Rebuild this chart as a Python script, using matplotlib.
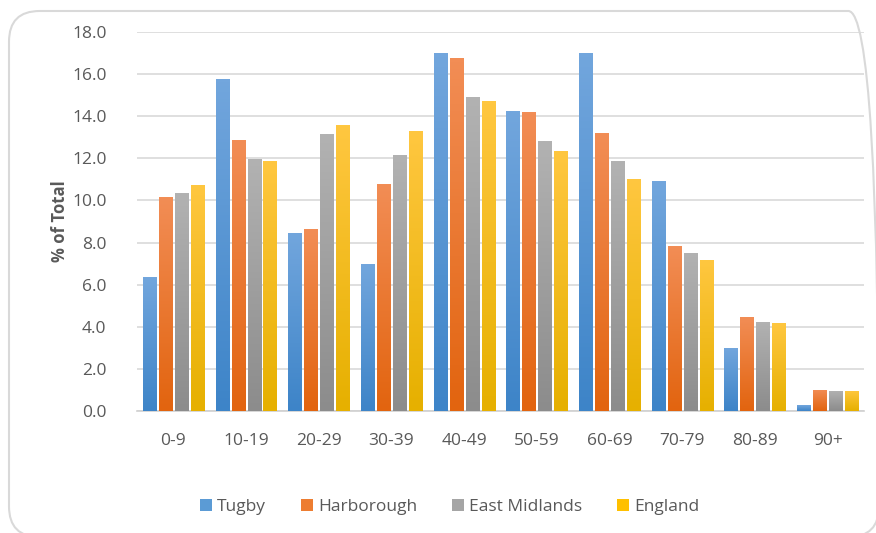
import matplotlib
matplotlib.use("Agg")
import matplotlib.pyplot as plt
import numpy as np
from matplotlib.colors import LinearSegmentedColormap
from matplotlib.patches import FancyBboxPatch

# ================================
# Data
# ================================
age_groups = ["0-9", "10-19", "20-29", "30-39", "40-49", "50-59", "60-69", "70-79", "80-89", "90+"]
tugby = [6.35, 15.75, 8.47, 6.98, 16.98, 14.24, 16.98, 10.9, 3.01, 0.27]
harborough = [10.15, 12.87, 8.63, 10.78, 16.76, 14.2, 13.18, 7.83, 4.46, 1.01]
east_midlands = [10.35, 11.98, 13.14, 12.16, 14.91, 12.82, 11.86, 7.52, 4.23, 0.95]
england = [10.75, 11.86, 13.58, 13.3, 14.7, 12.36, 11.02, 7.19, 4.16, 0.95]

series_names = ["Tugby", "Harborough", "East Midlands", "England"]
series_values = [tugby, harborough, east_midlands, england]
yticks = np.arange(0, 18.1, 2)

# top colour, bottom colour, legend colour
gradients = [
    ("#72a6dd", "#3d84c8", "#5b9bd5"),
    ("#f28d55", "#e2640f", "#ed7d31"),
    ("#b2b2b2", "#8c8c8c", "#a5a5a5"),
    ("#ffc740", "#e6b000", "#ffc000"),
]

TEXT = "#595959"
plt.rcParams["font.family"] = ["Open Sans", "DejaVu Sans"]

fig = plt.figure(figsize=(8.76, 5.33), dpi=100)
ax = fig.add_axes([137 / 876, 122 / 533, 727 / 876, 379 / 533])

# chart border (runs off the right and bottom edge like the screenshot)
border = FancyBboxPatch((9 / 876, -4 / 533), 870 / 876, 526 / 533,
                        boxstyle="round,pad=0,rounding_size=0.035",
                        transform=fig.transFigure, facecolor="none",
                        edgecolor="#d9d9d9", linewidth=1.5, mutation_aspect=876 / 533)
fig.patches.append(border)

x = np.arange(len(age_groups))
width = 0.18
pitch = 0.22

for i, (name, vals) in enumerate(zip(series_names, series_values)):
    top, bottom, solid = gradients[i]
    cmap = LinearSegmentedColormap.from_list(name, [bottom, top])
    offs = x + (i - 1.5) * pitch
    bars = ax.bar(offs, vals, width=width, color=solid, label=name, zorder=2)
    for b in bars:
        bx, by = b.get_x(), b.get_y()
        bw, bh = b.get_width(), b.get_height()
        grad = np.linspace(0, 1, 100).reshape(-1, 1)
        im = ax.imshow(grad, cmap=cmap, origin="lower", aspect="auto",
                       extent=[bx, bx + bw, by, by + bh], zorder=3)
        im.set_clip_path(b)

ax.set_xlim(-0.5, len(age_groups) - 0.5)
ax.set_ylim(0, 18)
ax.set_yticks(yticks)
ax.set_yticklabels([f"{v:.1f}" for v in yticks])
ax.set_xticks(x)
ax.set_xticklabels(age_groups)

ax.grid(axis="y", color="#d9d9d9", linewidth=1.2, zorder=0)
ax.set_axisbelow(True)
for s in ["top", "right", "left"]:
    ax.spines[s].set_visible(False)
ax.spines["bottom"].set_color("#d0d0d0")
ax.spines["bottom"].set_linewidth(1.2)

ax.tick_params(axis="y", length=0, pad=22, labelsize=12.5, labelcolor=TEXT)
ax.tick_params(axis="x", length=0, pad=16, labelsize=12.5, labelcolor=TEXT)

ax.set_ylabel("% of Total", fontsize=12, fontweight="bold", color=TEXT, labelpad=2)

leg = ax.legend(loc="upper center", bbox_to_anchor=(0.43, -0.19), ncol=4,
                frameon=False, fontsize=12.5, handlelength=0.7, handleheight=0.7,
                handletextpad=0.3, columnspacing=2.0)
for t in leg.get_texts():
    t.set_color(TEXT)

fig.savefig("out.png", dpi=100)
